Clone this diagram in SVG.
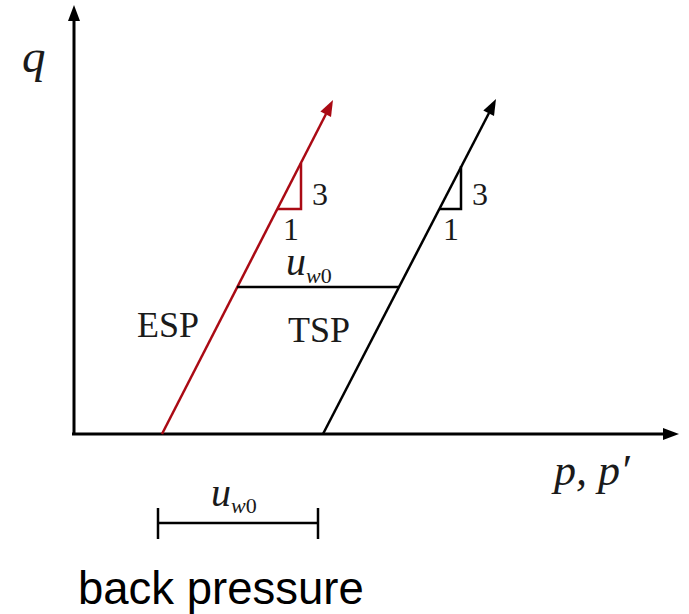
<svg xmlns="http://www.w3.org/2000/svg" width="689" height="614" viewBox="0 0 689 614">
<style>
.ax{stroke:#000;stroke-width:3;fill:none}
.blk{stroke:#000;stroke-width:2.5;fill:none}
.red{stroke:#AA0A14;stroke-width:2.5;fill:none}
.serif{font-family:"Liberation Serif","Times New Roman",serif;fill:#1a1a1a}
.it{font-style:italic}
.sans{font-family:"Liberation Sans",Arial,sans-serif;fill:#000}
</style>
<rect width="689" height="614" fill="#fff"/>
<g id="connectors">
  <line class="ax" x1="74" y1="435" x2="74" y2="20"/>
  <polygon points="74,5 68,21 80,21" fill="#000"/>
  <line class="ax" x1="72" y1="434" x2="664" y2="434"/>
  <polygon points="679,434 663,428 663,440" fill="#000"/>
  <line class="red" x1="162" y1="434" x2="326" y2="114"/>
  <polygon points="333,100 331.0,117.0 320.4,111.5" fill="#AA0A14"/>
  <line class="blk" x1="323" y1="434" x2="489" y2="113"/>
  <polygon points="496,99 494.0,116.0 483.3,110.5" fill="#000"/>
  <line class="blk" x1="237" y1="287" x2="399" y2="287"/>
</g>
<g id="esp-slope">
  <polyline class="red" points="277,209 301,209 301,163"/>
  <text class="serif" x="320" y="205" font-size="32" text-anchor="middle">3</text>
  <text class="serif" x="291" y="240" font-size="32" text-anchor="middle">1</text>
</g>
<g id="tsp-slope">
  <polyline class="blk" points="439,209 461,209 461,166"/>
  <text class="serif" x="480" y="205" font-size="32" text-anchor="middle">3</text>
  <text class="serif" x="451" y="240" font-size="32" text-anchor="middle">1</text>
</g>
<g id="labels">
  <text class="serif it" x="22" y="72" font-size="47">q</text>
  <text class="serif it" x="554" y="485" font-size="44">p, p′</text>
  <text class="serif" x="137" y="337" font-size="36">ESP</text>
  <text class="serif" x="288" y="342" font-size="36">TSP</text>
  <text class="serif it" x="286" y="275" font-size="40">u<tspan font-size="22" dy="8">w</tspan><tspan font-size="22" font-style="normal">0</tspan></text>
</g>
<g id="back-pressure">
  <polyline class="blk" points="158,508 158,539"/>
  <polyline class="blk" points="318,508 318,539"/>
  <line class="blk" x1="158" y1="523" x2="318" y2="523"/>
  <text class="serif it" x="211" y="506" font-size="40">u<tspan font-size="22" dy="7">w</tspan><tspan font-size="22" font-style="normal">0</tspan></text>
  <text class="sans" x="78" y="604" font-size="45.5">back pressure</text>
</g>
</svg>
